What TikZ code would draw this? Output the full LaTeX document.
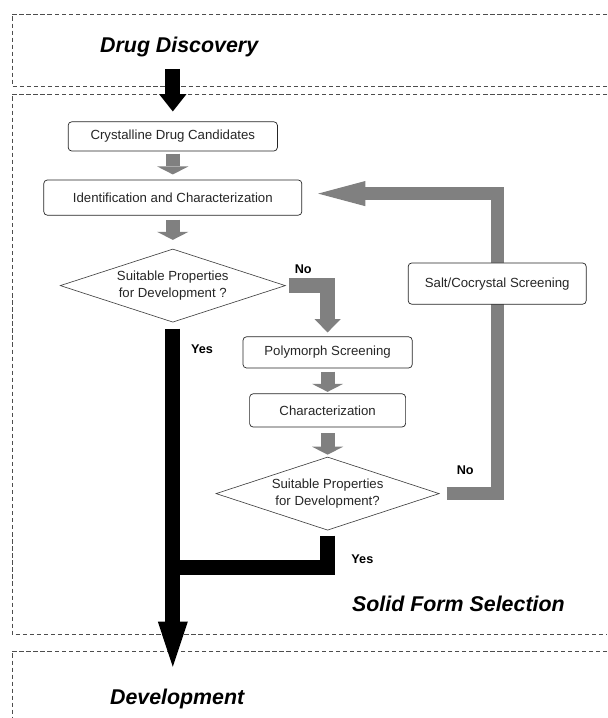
\documentclass[tikz,border=0pt]{standalone}
\usepackage{fontspec}
\setmainfont{Liberation Sans}
\usepackage{xcolor}
\usepackage{tikz}
\usetikzlibrary{arrows.meta,shapes.geometric}
\definecolor{SFGray}{HTML}{808080}
\definecolor{SFDash}{HTML}{4D4D4D}
\definecolor{SFText}{HTML}{262626}
\tikzset{
  stepbox/.style={draw=black!85,line width=.5pt,rounded corners=2.5pt,fill=white,inner sep=0pt,
    font=\fontsize{9.4}{11.4}\selectfont,text=SFText},
  askbox/.style={diamond,draw=black!75,line width=.45pt,fill=white,aspect=3,inner sep=0pt,align=center,
    font=\fontsize{9.4}{11.4}\selectfont,text=SFText},
  framedash/.style={SFDash,line width=.5pt,dash pattern=on 3pt off 2pt},
  phase/.style={anchor=base,font=\fontsize{15.2}{18}\selectfont\bfseries\itshape},
  answer/.style={font=\fontsize{9}{11}\selectfont\bfseries},
  grayarrow/.style={SFGray,line width=.35cm,-{Triangle[width=.78cm,length=.2cm,line width=0pt]}},
  blackbar/.style={black,line width=.375cm,line join=miter},
}

\begin{document}
\begin{tikzpicture}[x=1cm,y=1cm]
\path[use as bounding box] (0,0) rectangle (15.175,17.95);
\fill[white] (0,0) rectangle (15.175,17.95);
% phase frames
\draw[framedash] (15.175,17.60) -- (0.30,17.60) -- (0.30,15.80) -- (15.175,15.80);
\draw[framedash] (15.175,15.60) -- (0.30,15.60) -- (0.30,2.10) -- (15.175,2.10);
\draw[framedash] (15.175,1.675) -- (0.30,1.675) -- (0.30,0);
\node[phase] (discovery) at (4.48,16.63) {Drug Discovery};
\node[phase] (selection) at (11.46,2.65) {Solid Form Selection};
\node[phase] (develop) at (4.43,0.33) {Development};
% steps
\node[stepbox,minimum width=5.23cm,minimum height=.73cm] (cryst) at (4.32,14.54) {Crystalline Drug Candidates};
\node[stepbox,minimum width=6.45cm,minimum height=.88cm] (ident) at (4.32,13.01) {Identification and Characterization};
\node[askbox,minimum width=5.63cm,minimum height=1.83cm] (ask1) at (4.32,10.81) {Suitable Properties\\for Development ?};
\node[stepbox,minimum width=4.23cm,minimum height=.78cm] (poly) at (8.19,9.14) {Polymorph Screening};
\node[stepbox,minimum width=3.9cm,minimum height=.83cm] (charac) at (8.19,7.69) {Characterization};
\node[askbox,minimum width=5.58cm,minimum height=1.83cm] (ask2) at (8.19,5.61) {Suitable Properties\\for Development?};
\node[answer] (no1) at (7.58,11.23) {No};
\node[answer] (yes1) at (5.05,9.23) {Yes};
\node[answer] (no2) at (11.63,6.20) {No};
\node[answer] (yes2) at (9.06,3.98) {Yes};
\coordinate (dstart) at (4.32,16.23);
\coordinate (devtip) at (4.32,1.28);
\coordinate (merge) at (4.32,3.76);
\coordinate (saltc) at (12.43,10.86);
% connectors
\draw[blackbar,-{Triangle[width=.68cm,length=.43cm,line width=0pt]},shorten >=.25cm] (dstart) -- (cryst.north);
\draw[grayarrow,shorten <=.06cm,shorten >=.13cm] (cryst.south) -- (ident.north);
\draw[grayarrow,shorten <=.1cm,shorten >=.22cm] (ident.south) -- (ask1.north);
\draw[grayarrow,shorten <=.08cm,shorten >=.04cm] (poly.south) -- (charac.north);
\draw[grayarrow,shorten <=.15cm,shorten >=.05cm] (charac.south) -- (ask2.north);
\draw[SFGray,line width=.36cm,line join=miter,-{Triangle[width=.65cm,length=.33cm,line width=0pt]},
  shorten <=.08cm,shorten >=.1cm] (ask1.east) -| (poly.north);
\draw[SFGray,line width=.33cm,line join=miter,-{Triangle[width=.63cm,length=1.18cm,line width=0pt]},
  shorten <=.18cm,shorten >=.4cm] (ask2.east) -| (saltc) |- ([yshift=.1cm]ident.east);
\draw[blackbar,-{Triangle[width=.75cm,length=1.13cm,line width=0pt]},shorten <=.15cm] (ask1.south) -- (devtip);
\draw[blackbar,shorten <=.13cm] (ask2.south) |- (merge);
\node[stepbox,minimum width=4.45cm,minimum height=1.03cm] (salt) at (saltc) {Salt/Cocrystal Screening};
\end{tikzpicture}
\end{document}
